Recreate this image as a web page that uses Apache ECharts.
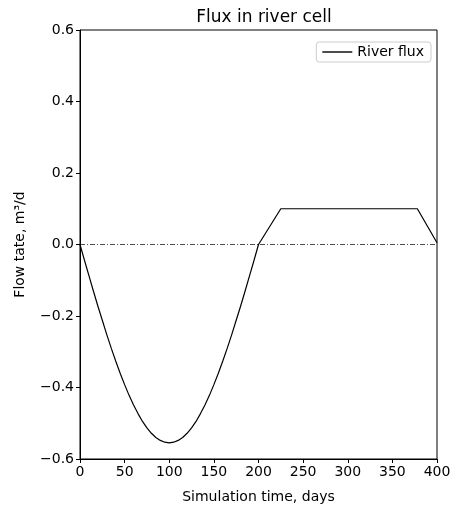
<!DOCTYPE html>
<html>
<head>
<meta charset="utf-8">
<script src="https://cdn.jsdelivr.net/npm/echarts@6/dist/echarts.min.js"></script>
<style>
  html, body { margin: 0; padding: 0; background: #fff; }
  #chart { width: 461px; height: 511px; }
</style>
</head>
<body>
<div id="chart"></div>
<script>
// days and river flux (m3/d)
var days = [0, 5, 10, 15, 20, 25, 30, 35, 40, 45, 50, 55, 60, 65, 70, 75, 80, 85, 90, 95,
  100, 105, 110, 115, 120, 125, 130, 135, 140, 145, 150, 155, 160, 165, 170, 175, 180, 185, 190, 195,
  200, 225, 378, 400];
var flux = [0, -0.044, -0.087, -0.130, -0.172, -0.212, -0.252, -0.290, -0.326, -0.360, -0.392, -0.422, -0.449, -0.473, -0.495, -0.513, -0.528, -0.540, -0.548, -0.553,
  -0.555, -0.553, -0.548, -0.540, -0.528, -0.513, -0.495, -0.473, -0.449, -0.422, -0.392, -0.360, -0.326, -0.290, -0.252, -0.212, -0.172, -0.130, -0.087, -0.044,
  0, 0.1, 0.1, 0.005];

var chart = echarts.init(document.getElementById("chart"));
var font = "DejaVu Sans";

var option = {
  animation: false,
  title: {
    text: "Flux in river cell",
    left: 259,
    textAlign: "center",
    top: 4,
    textStyle: { fontFamily: font, fontSize: 17, fontWeight: "normal", color: "#000" }
  },
  legend: {
    right: 30,
    top: 42,
    padding: [3, 7, 3, 6],
    borderColor: "#cccccc",
    borderWidth: 1,
    borderRadius: 3,
    itemWidth: 30,
    itemHeight: 10,
    itemGap: 10,
    textStyle: { fontFamily: font, fontSize: 14, color: "#000" },
    data: [{ name: "River flux", icon: "path://M0,4.4L30,4.4L30,5.8L0,5.8Z" }]
  },
  grid: {
    left: 80,
    right: 24,
    top: 30,
    bottom: 52,
    show: true,
    borderColor: "#000",
    borderWidth: 1
  },
  xAxis: {
    type: "value",
    min: 0,
    max: 400,
    interval: 50,
    name: "Simulation time, days",
    nameLocation: "middle",
    nameGap: 31,
    nameTextStyle: { fontFamily: font, fontSize: 14, color: "#000" },
    axisLine: { onZero: false, lineStyle: { color: "#000" } },
    axisTick: { length: 4, lineStyle: { color: "#000" } },
    axisLabel: { fontFamily: font, fontSize: 14, color: "#000", margin: 6 },
    splitLine: { show: false }
  },
  yAxis: {
    type: "value",
    min: -0.6,
    max: 0.6,
    interval: 0.2,
    name: "Flow tate, m³/d",
    nameLocation: "middle",
    nameGap: 53,
    nameTextStyle: { fontFamily: font, fontSize: 14, color: "#000" },
    axisLine: { show: true, onZero: false, lineStyle: { color: "#000" } },
    axisTick: { show: true, length: 4, lineStyle: { color: "#000" } },
    axisLabel: {
      fontFamily: font, fontSize: 14, color: "#000", margin: 6,
      formatter: function (v) {
        var s = Math.abs(v).toFixed(1);
        return v < -1e-9 ? "\u2212" + s : s;
      }
    },
    splitLine: { show: false }
  },
  series: [
    {
      name: "River flux",
      type: "line",
      data: days.map(function (d, i) { return [d, flux[i]]; }),
      symbol: "none",
      lineStyle: { color: "#000", width: 1.2 },
      itemStyle: { color: "#000" },
      markLine: {
        silent: true,
        symbol: "none",
        label: { show: false },
        lineStyle: { color: "#000", width: 0.7, type: [5, 2, 1, 2] },
        data: [{ yAxis: 0 }]
      }
    }
  ]
};
chart.setOption(option);
</script>
</body>
</html>
